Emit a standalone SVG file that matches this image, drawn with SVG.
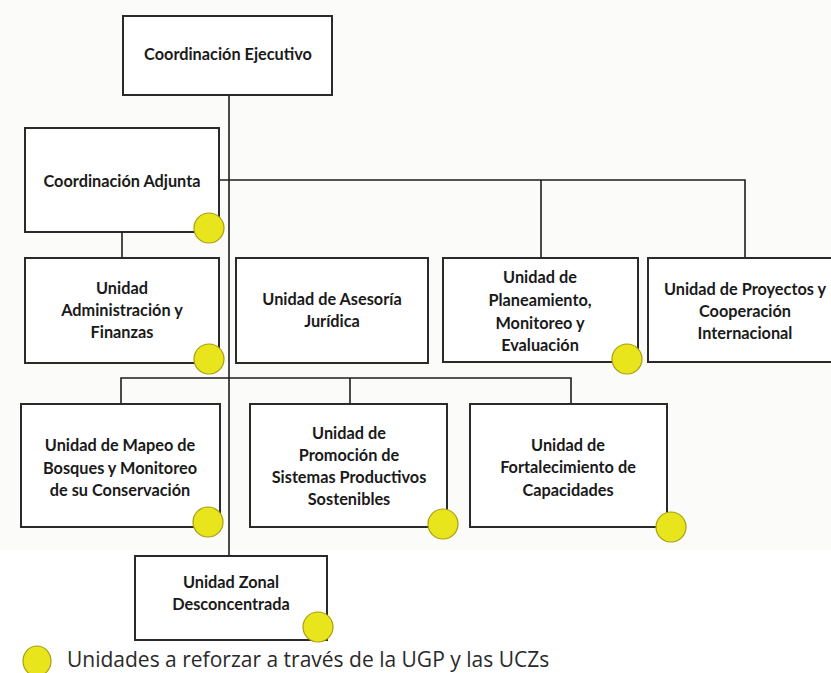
<svg xmlns="http://www.w3.org/2000/svg" width="831" height="673" viewBox="0 0 831 673">
<style>
.box{fill:#fff;stroke:#2a2a2a;stroke-width:2}
.ln{fill:none;stroke:#1e1e1e;stroke-width:1.6}
.t{font-family:Lato,"Open Sans","Liberation Sans",sans-serif;font-weight:bold;font-size:16.3px;fill:#1a1a1a;text-anchor:middle}
.dot{fill:#e9e51c;stroke:#a89e10;stroke-width:1.2}
.lg{font-family:"Open Sans","Liberation Sans",sans-serif;font-size:21px;fill:#2a2a2a}
</style>
<rect width="831" height="673" fill="#fff"/>
<rect x="0" y="0" width="831" height="550" fill="#fbfbfa"/>
<g id="connectors">
<path class="ln" d="M229 95V556"/>
<path class="ln" d="M219 180H745V258M541 180V258"/>
<path class="ln" d="M122 232V258"/>
<path class="ln" d="M121 404V378H571V404M350 378V404"/>
</g>
<g id="n-ejecutivo"><rect class="box" x="123" y="16" width="209" height="79"/><text class="t" x="228" y="60">Coordinación  Ejecutivo</text></g>
<g id="n-adjunta"><rect class="box" x="25" y="128" width="194" height="104"/><text class="t" x="122" y="187">Coordinación  Adjunta</text><circle class="dot" cx="209" cy="228" r="15"/></g>
<g id="n-admin"><rect class="box" x="25" y="258" width="194" height="105"/><text class="t" x="122" y="294">Unidad</text><text class="t" x="122" y="316">Administración  y</text><text class="t" x="122" y="338">Finanzas</text><circle class="dot" cx="209" cy="359" r="15"/></g>
<g id="n-asesoria"><rect class="box" x="236" y="258" width="192" height="105"/><text class="t" x="332" y="305">Unidad de Asesoría</text><text class="t" x="332" y="327">Jurídica</text></g>
<g id="n-planeamiento"><rect class="box" x="443" y="258" width="195" height="104"/><text class="t" x="540" y="283">Unidad de</text><text class="t" x="540" y="306">Planeamiento,</text><text class="t" x="540" y="329">Monitoreo y</text><text class="t" x="540" y="351">Evaluación</text><circle class="dot" cx="627" cy="359" r="15"/></g>
<g id="n-proyectos"><rect class="box" x="648" y="258" width="195" height="104"/><text class="t" x="745" y="295">Unidad de Proyectos y</text><text class="t" x="745" y="317">Cooperación</text><text class="t" x="745" y="339">Internacional</text></g>
<g id="n-mapeo"><rect class="box" x="21" y="404" width="199" height="123"/><text class="t" x="120" y="451">Unidad de Mapeo de</text><text class="t" x="120" y="474">Bosques y Monitoreo</text><text class="t" x="120" y="496">de su Conservación</text><circle class="dot" cx="208" cy="522" r="15"/></g>
<g id="n-promocion"><rect class="box" x="250" y="404" width="197" height="123"/><text class="t" x="349" y="439">Unidad de</text><text class="t" x="349" y="461">Promoción de</text><text class="t" x="349" y="483">Sistemas Productivos</text><text class="t" x="349" y="505">Sostenibles</text><circle class="dot" cx="443" cy="524" r="15"/></g>
<g id="n-fortalecimiento"><rect class="box" x="470" y="404" width="197" height="123"/><text class="t" x="568" y="451">Unidad de</text><text class="t" x="568" y="473">Fortalecimiento de</text><text class="t" x="568" y="496">Capacidades</text><circle class="dot" cx="671" cy="527" r="15"/></g>
<g id="n-zonal"><rect class="box" x="135" y="556" width="192" height="84"/><text class="t" x="231" y="588">Unidad Zonal</text><text class="t" x="231" y="610">Desconcentrada</text><circle class="dot" cx="318" cy="627" r="15"/></g>
<g id="legend"><ellipse class="dot" cx="37" cy="661" rx="14" ry="15"/><text class="lg" x="67" y="667">Unidades a reforzar a través de la UGP y las UCZs</text></g>
</svg>
